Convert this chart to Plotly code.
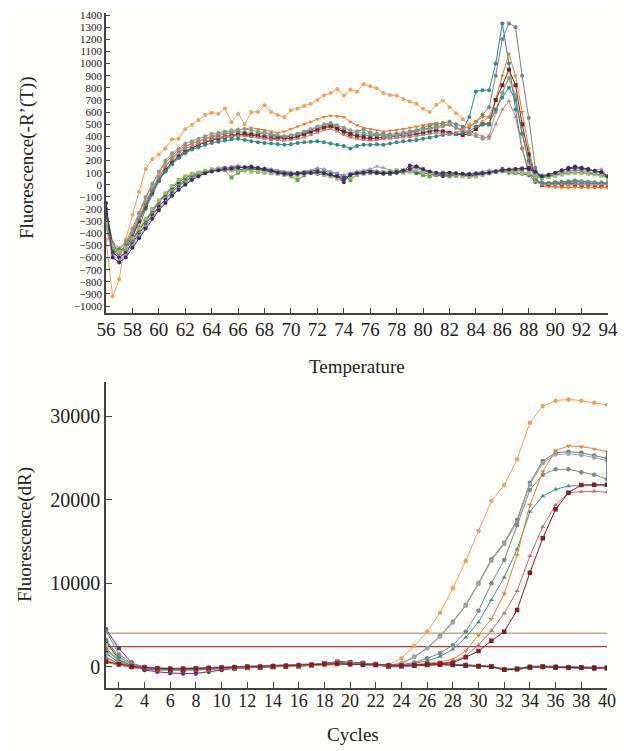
import plotly.graph_objects as go

# ---------------- Melt curve data (Temperature 56..94 step 0.5) ----------------
temperature = [56 + 0.5 * i for i in range(77)]

melt_h1 = [-450, -920, -780, -450, -250, -60, 130, 210, 250, 300,
           375, 380, 460, 495, 535, 575, 595, 585, 630, 515,
           585, 500, 600, 600, 655, 600, 575, 560, 615, 630,
           650, 668, 700, 736, 757, 790, 736, 785, 768, 831,
           812, 796, 757, 741, 736, 708, 686, 668, 627, 600,
           659, 695, 640, 590, 540, 500, 470, 520, 560, 620,
           760, 880, 720, 420, 180, 40, 0, -10, -15, -20,
           -20, -15, -20, -25, -20, -20, -25]
melt_h2 = [-300, -560, -600, -560, -470, -350, -200, -80, 30, 120,
           190, 240, 280, 300, 330, 350, 370, 390, 400, 410,
           420, 410, 400, 420, 430, 410, 400, 395, 400, 420,
           430, 450, 470, 480, 490, 470, 430, 400, 410, 415,
           400, 410, 420, 400, 405, 420, 430, 440, 455, 470,
           480, 490, 500, 470, 450, 560, 770, 780, 780, 1000,
           1330, 1000, 620, 300, 90, 20, 10, 15, 20, 25,
           30, 35, 30, 25, 20, 15, 10]
melt_h3 = [-200, -480, -560, -520, -420, -290, -150, -40, 60, 150,
           220, 270, 310, 340, 360, 380, 395, 405, 420, 430,
           440, 430, 420, 410, 405, 400, 390, 380, 385, 400,
           410, 430, 460, 490, 500, 480, 450, 420, 440, 460,
           430, 420, 410, 415, 420, 430, 440, 450, 470, 490,
           500, 510, 520, 500, 480, 470, 520, 580, 640, 900,
           1200, 1330, 1300, 900, 550, 140, 20, 10, 15, 20,
           25, 30, 25, 20, 15, 20, 15]
melt_h4 = [-350, -540, -580, -500, -380, -240, -110, 0, 100, 180,
           240, 290, 320, 340, 360, 380, 400, 420, 430, 440,
           450, 460, 470, 460, 450, 440, 430, 440, 460, 480,
           500, 520, 540, 560, 570, 565, 560, 520, 490, 470,
           460, 450, 440, 445, 450, 460, 470, 480, 490, 500,
           510, 500, 490, 470, 460, 480, 520, 560, 560, 700,
           900, 1080, 900, 600, 300, 60, -10, -15, -20, -20,
           -25, -20, -25, -20, -25, -20, -20]
melt_h5 = [-250, -500, -560, -520, -430, -300, -180, -60, 40, 120,
           180, 230, 270, 300, 330, 350, 370, 380, 390, 400,
           410, 420, 410, 400, 390, 380, 385, 390, 380, 400,
           420, 440, 450, 470, 480, 460, 440, 420, 400, 390,
           380, 385, 390, 395, 400, 410, 415, 420, 430, 440,
           450, 440, 430, 420, 410, 420, 460, 500, 500, 700,
           820, 950, 820, 500, 250, 50, 0, 5, 10, 5,
           10, 5, 0, 5, 0, 5, 0]
melt_h6 = [-280, -520, -540, -470, -360, -230, -100, 10, 110, 200,
           260, 300, 340, 360, 380, 400, 420, 430, 440, 450,
           455, 460, 450, 440, 430, 420, 410, 400, 410, 420,
           440, 460, 480, 500, 510, 490, 470, 450, 440, 430,
           420, 410, 400, 400, 405, 415, 425, 440, 450, 460,
           470, 480, 500, 470, 440, 420, 400, 380, 400, 600,
           760, 880, 740, 420, 200, 40, 10, 15, 10, 15,
           20, 15, 20, 15, 10, 15, 10]
melt_h7 = [-300, -540, -560, -500, -400, -280, -160, -50, 40, 110,
           170, 220, 260, 290, 310, 330, 345, 355, 365, 375,
           380, 370, 360, 350, 345, 340, 335, 330, 335, 345,
           350, 355, 360, 350, 340, 330, 320, 300, 320, 330,
           330, 335, 330, 340, 350, 360, 365, 370, 380, 390,
           400, 410, 420, 420, 430, 440, 480, 500, 500, 620,
           720, 800, 700, 420, 200, 50, 10, 10, 5, 10,
           15, 10, 5, 10, 5, 10, 5]
melt_h8 = [-220, -480, -520, -480, -390, -270, -140, -30, 70, 150,
           210, 260, 300, 320, 340, 360, 375, 390, 395, 400,
           405, 400, 395, 390, 380, 375, 370, 365, 370, 380,
           390, 410, 430, 450, 460, 440, 410, 390, 380, 370,
           365, 370, 375, 380, 385, 390, 395, 400, 410, 420,
           430, 420, 410, 430, 450, 440, 420, 400, 380, 500,
           620, 690, 560, 300, 120, 30, 0, 5, 0, 5,
           0, 5, 0, 5, 0, 5, 0]
melt_l1 = [-250, -560, -600, -560, -480, -400, -320, -250, -180, -120,
           -60, -10, 30, 60, 90, 110, 125, 135, 140, 145,
           150, 140, 145, 135, 130, 120, 110, 100, 95, 100,
           105, 110, 120, 100, 80, 60, 20, 90, 100, 110,
           120, 110, 100, 90, 100, 110, 160, 150, 120, 100,
           80, 70, 75, 80, 85, 90, 95, 100, 95, 110,
           130, 120, 110, 130, 140, 100, 60, 70, 80, 110,
           140, 150, 140, 130, 110, 100, 60]
melt_l2 = [-300, -520, -560, -530, -460, -380, -300, -220, -150, -90,
           -40, 10, 40, 70, 90, 105, 115, 120, 120, 60,
           100, 120, 130, 125, 120, 110, 100, 90, 70, 40,
           80, 100, 110, 115, 100, 90, 70, 40, 80, 100,
           100, 105, 95, 90, 110, 120, 130, 100, 80, 70,
           80, 85, 70, 75, 80, 70, 75, 90, 100, 110,
           120, 115, 120, 110, 90, 70, 60, 70, 90, 100,
           110, 120, 115, 110, 90, 80, 50]
melt_l3 = [-350, -580, -620, -580, -500, -420, -340, -270, -200, -140,
           -80, -30, 10, 50, 80, 100, 115, 130, 140, 150,
           160, 150, 140, 135, 140, 130, 120, 110, 105, 100,
           110, 120, 140, 130, 110, 90, 80, 100, 110, 120,
           130, 150, 140, 120, 110, 100, 120, 140, 110, 100,
           90, 95, 100, 90, 85, 90, 100, 110, 120, 115,
           110, 125, 130, 140, 120, 100, 80, 90, 100, 110,
           120, 125, 120, 110, 120, 130, 60]
melt_l4 = [-200, -500, -540, -520, -450, -370, -290, -210, -140, -80,
           -20, 20, 60, 80, 100, 110, 120, 125, 130, 120,
           125, 130, 135, 125, 115, 110, 100, 95, 90, 95,
           100, 95, 90, 85, 80, 70, 60, 80, 90, 95,
           100, 95, 90, 95, 100, 105, 110, 100, 95, 90,
           85, 80, 85, 90, 80, 75, 80, 90, 100, 105,
           110, 100, 95, 90, 80, 70, 60, 70, 80, 90,
           100, 105, 100, 95, 90, 80, 60]
melt_l5 = [-320, -500, -550, -520, -440, -360, -280, -200, -130, -70,
           -10, 40, 70, 90, 100, 115, 125, 130, 125, 120,
           115, 120, 110, 105, 100, 95, 90, 80, 70, 75,
           90, 100, 95, 80, 70, 50, 40, 60, 80, 90,
           95, 100, 105, 110, 120, 100, 110, 120, 100, 95,
           90, 100, 95, 90, 70, 65, 70, 80, 95, 105,
           115, 110, 100, 95, 90, 70, 60, 65, 75, 85,
           95, 100, 95, 90, 85, 75, 55]
melt_l6 = [-150, -600, -640, -600, -520, -440, -360, -280, -210, -150,
           -90, -40, 0, 40, 70, 95, 110, 120, 130, 135,
           140, 145, 150, 140, 130, 115, 100, 90, 85, 90,
           95, 100, 105, 95, 85, 70, 40, 80, 95, 100,
           105, 100, 95, 100, 105, 115, 130, 150, 130, 110,
           100, 95, 100, 95, 90, 85, 90, 95, 100, 110,
           120, 125, 130, 135, 130, 110, 70, 80, 100, 120,
           130, 140, 135, 125, 115, 105, 70]

melt_series = [
    ("H1", melt_h1, "#f5a05a", "circle"),
    ("H2", melt_h2, "#2f8f85", "circle"),
    ("H3", melt_h3, "#6f8686", "circle"),
    ("H4", melt_h4, "#ea7a2c", "triangle-down"),
    ("H5", melt_h5, "#8b1c1c", "square"),
    ("H6", melt_h6, "#82a096", "circle"),
    ("H7", melt_h7, "#2c8c8c", "circle"),
    ("H8", melt_h8, "#c97c7c", "triangle-up"),
    ("L1", melt_l1, "#5c1f6e", "circle"),
    ("L2", melt_l2, "#6aa84f", "square"),
    ("L3", melt_l3, "#a095c6", "triangle-up"),
    ("L4", melt_l4, "#2d5e4a", "circle"),
    ("L5", melt_l5, "#a0b86a", "square"),
    ("L6", melt_l6, "#3d2a6b", "circle"),
]

# ---------------- Amplification data (cycles 1..40) ----------------
cycles = list(range(1, 41))

amp_a = [2600, 900, 200, -100, -200, -250, -250, -250, -200, -150,
         -100, -50, 0, 50, 80, 100, 150, 250, 300, 280,
         250, 200, 250, 1000, 2480, 4190, 6470, 9390, 12700, 16250,
         19840, 21760, 24830, 29220, 31220, 31860, 32000, 31860, 31620, 31340]
amp_b = [3200, 1200, 300, -50, -200, -250, -250, -200, -150, -100,
         -50, 0, 50, 80, 100, 150, 200, 350, 450, 400,
         350, 250, 200, 400, 1200, 2250, 3680, 5390, 7390, 10000,
         12860, 14860, 17570, 22040, 24630, 25630, 25750, 25630, 25300, 24950]
amp_c = [1500, 600, 100, -150, -250, -300, -300, -250, -200, -150,
         -100, -50, 0, 50, 100, 150, 200, 300, 400, 380,
         300, 250, 150, 350, 1150, 2200, 3600, 5300, 7300, 9900,
         12700, 14700, 17300, 21800, 24400, 25400, 25500, 25350, 25050, 24700]
amp_f = [4300, 1500, 400, 0, -150, -200, -200, -150, -100, -50,
         0, 50, 100, 150, 200, 250, 300, 400, 500, 450,
         400, 300, 200, 250, 500, 1000, 1600, 2600, 4200, 6700,
         9990, 12780, 16930, 21160, 23000, 23640, 23640, 23300, 23000, 22450]
amp_e = [2200, 800, 100, -200, -300, -350, -350, -300, -250, -200,
         -150, -100, -50, 0, 50, 100, 150, 300, 400, 350,
         300, 200, 150, 200, 400, 700, 1210, 2080, 3500, 5350,
         8000, 10700, 14060, 18560, 20440, 21250, 21640, 21700, 21700, 21650]
amp_d = [500, 200, 0, -100, -150, -200, -200, -150, -100, -100,
         -50, 0, 0, 50, 50, 100, 150, 250, 300, 300,
         250, 200, 100, 150, 250, 400, 600, 890, 1900, 3750,
         5700, 8750, 13380, 19370, 23350, 25900, 26430, 26350, 26100, 25750]
amp_g = [1000, 400, 100, -100, -200, -250, -250, -200, -150, -100,
         -50, 0, 50, 50, 100, 150, 200, 300, 350, 300,
         250, 200, 150, 150, 200, 300, 400, 600, 1300, 2600,
         4300, 6400, 9070, 13260, 16770, 19370, 20840, 20960, 21000, 20900]
amp_h = [600, 300, 50, -100, -200, -250, -250, -200, -150, -100,
         -50, 0, 0, 50, 100, 150, 200, 300, 350, 300,
         250, 200, 150, 150, 200, 300, 400, 480, 1130, 1880,
         3110, 4190, 6790, 11260, 15380, 18850, 20840, 21760, 21800, 21800]
amp_n1 = [4500, 2200, 500, -400, -600, -750, -800, -800, -600, -400,
          -200, -100, 0, 50, 100, 150, 250, 400, 550, 500,
          450, 350, 100, 100, 200, 250, 300, 250, 150, 50,
          0, -350, -300, -100, -50, -100, -150, -150, -200, -200]
amp_n2 = [3000, 900, 100, -200, -300, -350, -350, -300, -250, -200,
          -150, -100, -50, 0, 50, 100, 200, 400, 600, 550,
          450, 300, 50, 100, 200, 300, 350, 300, 200, 100,
          50, -300, -250, -50, 0, -50, -100, -100, -150, -150]
amp_n3 = [2000, 700, 0, -250, -350, -400, -400, -350, -300, -250,
          -200, -150, -100, -50, 0, 50, 150, 350, 500, 450,
          400, 250, 0, 50, 150, 250, 300, 250, 150, 50,
          0, -300, -200, 0, 50, 0, -50, -50, -100, -100]
amp_n4 = [1200, 300, -100, -300, -400, -450, -450, -400, -300, -250,
          -200, -150, -100, -50, 0, 50, 150, 300, 450, 400,
          350, 200, -50, 0, 100, 200, 250, 200, 100, 0,
          -50, -400, -350, -100, -50, -100, -150, -150, -200, -200]
amp_n5 = [800, 200, -100, -200, -250, -300, -300, -250, -200, -150,
          -100, -50, 0, 50, 100, 150, 200, 350, 500, 450,
          400, 300, 100, 150, 250, 300, 300, 250, 200, 100,
          50, -250, -200, 50, 100, 50, 0, -50, -50, -50]
amp_n6 = [1600, 500, 0, -200, -300, -350, -350, -300, -250, -200,
          -150, -100, -50, 0, 50, 100, 200, 350, 450, 400,
          350, 250, 50, 100, 150, 200, 250, 200, 150, 50,
          0, -350, -300, -50, 0, -50, -100, -100, -150, -150]

amp_series = [
    ("N1", amp_n1, "#6b2a6b", "circle"),
    ("N2", amp_n2, "#2b2b5b", "square"),
    ("N3", amp_n3, "#6aa84f", "square"),
    ("N4", amp_n4, "#9b8fc4", "triangle-up"),
    ("N5", amp_n5, "#888888", "circle"),
    ("N6", amp_n6, "#7a1a1a", "square"),
    ("A", amp_a, "#f5a05a", "circle"),
    ("B", amp_b, "#6f7f80", "circle"),
    ("C", amp_c, "#9aa5a5", "circle"),
    ("F", amp_f, "#7a8c90", "circle"),
    ("E", amp_e, "#3a9a8a", "triangle-up"),
    ("D", amp_d, "#ee8030", "triangle-down"),
    ("G", amp_g, "#c87070", "triangle-up"),
    ("H", amp_h, "#8b1a2a", "square"),
]

threshold_cycles = [1, 40]
threshold_tan = [4000, 4000]
threshold_red = [2400, 2400]
cursor_cycles = [40, 40]
cursor_values = [22400, 25800]

melt_xticks = list(range(56, 95, 2))
melt_yticks = list(range(-1000, 1401, 100))
amp_xticks = list(range(2, 41, 2))
amp_yticks = [0, 10000, 20000, 30000]
amp_yticklabels = ["0", "10000", "20000", "30000"]

# The page draws the figure 8 px in from its top-left corner,
# so the figure is sized and positioned to compensate.
OX, OY = 8, 8
W, H = 630 - OX, 751 - OY
SERIF = "Liberation Serif"

fig = go.Figure()

for name, ys, col, sym in melt_series:
    fig.add_trace(go.Scatter(
        x=temperature, y=ys, mode="lines+markers", name=name,
        line=dict(color=col, width=1),
        marker=dict(color=col, size=4, symbol=sym),
        xaxis="x", yaxis="y", showlegend=False))

fig.add_trace(go.Scatter(x=threshold_cycles, y=threshold_tan, mode="lines",
                         line=dict(color="#b9ad8e", width=1.5),
                         xaxis="x2", yaxis="y2", showlegend=False))
fig.add_trace(go.Scatter(x=threshold_cycles, y=threshold_red, mode="lines",
                         line=dict(color="#b03a3a", width=1.2),
                         xaxis="x2", yaxis="y2", showlegend=False))

for name, ys, col, sym in amp_series:
    fig.add_trace(go.Scatter(
        x=cycles, y=ys, mode="lines+markers", name=name,
        line=dict(color=col, width=1),
        marker=dict(color=col, size=4.5, symbol=sym),
        xaxis="x2", yaxis="y2", showlegend=False))

fig.add_trace(go.Scatter(x=cursor_cycles, y=cursor_values, mode="lines",
                         line=dict(color="#4a5cc8", width=1.5),
                         xaxis="x2", yaxis="y2", showlegend=False))


def py(p):
    return 1 - (p - OY) / H


def px(p):
    return (p - OX) / W


axis_common = dict(showline=True, linecolor="#444", linewidth=1.5,
                   ticks="inside", tickcolor="#444", tickwidth=1.2,
                   showgrid=False, zeroline=False, mirror=False,
                   automargin=False, ticklabeloverflow="allow")

title_font = dict(size=19, family=SERIF, color="#222")

fig.update_layout(
    width=W, height=H, autosize=False,
    margin=dict(l=0, r=0, t=0, b=0, pad=0, autoexpand=False),
    paper_bgcolor="#fefefb", plot_bgcolor="#fefefb",
    font=dict(family=SERIF, color="#222"),
    xaxis=dict(domain=[px(106), px(608)], range=[56, 94], anchor="y",
               tickvals=melt_xticks, ticklen=6, ticklabelstandoff=-2,
               tickfont=dict(size=19, family=SERIF), **axis_common),
    yaxis=dict(domain=[py(313.3), py(12.6)], range=[-1060, 1420], anchor="x",
               tickvals=melt_yticks, ticklen=4,
               tickfont=dict(size=11, family=SERIF), **axis_common),
    xaxis2=dict(domain=[px(106), px(607)], range=[1, 40], anchor="y2",
                tickvals=amp_xticks, ticklen=6, ticklabelstandoff=-4,
                tickfont=dict(size=18, family=SERIF), **axis_common),
    yaxis2=dict(domain=[py(687.6), py(381.7)], range=[-2500, 34130], anchor="x2",
                tickvals=amp_yticks, ticktext=amp_yticklabels, ticklen=6,
                tickfont=dict(size=20, family=SERIF), **axis_common),
    annotations=[
        dict(text="Temperature", x=px(357), y=py(366), xref="paper", yref="paper",
             xanchor="center", yanchor="middle", showarrow=False, font=title_font),
        dict(text="Cycles", x=px(353), y=py(734), xref="paper", yref="paper",
             xanchor="center", yanchor="middle", showarrow=False, font=title_font),
        dict(text="Fluorescence(-R’(T))", x=px(27), y=py(158), xref="paper", yref="paper",
             xanchor="center", yanchor="middle", showarrow=False, textangle=-90,
             font=title_font),
        dict(text="Fluorescence(dR)", x=px(25), y=py(535), xref="paper", yref="paper",
             xanchor="center", yanchor="middle", showarrow=False, textangle=-90,
             font=title_font),
    ],
)

fig.write_html("out.html")
